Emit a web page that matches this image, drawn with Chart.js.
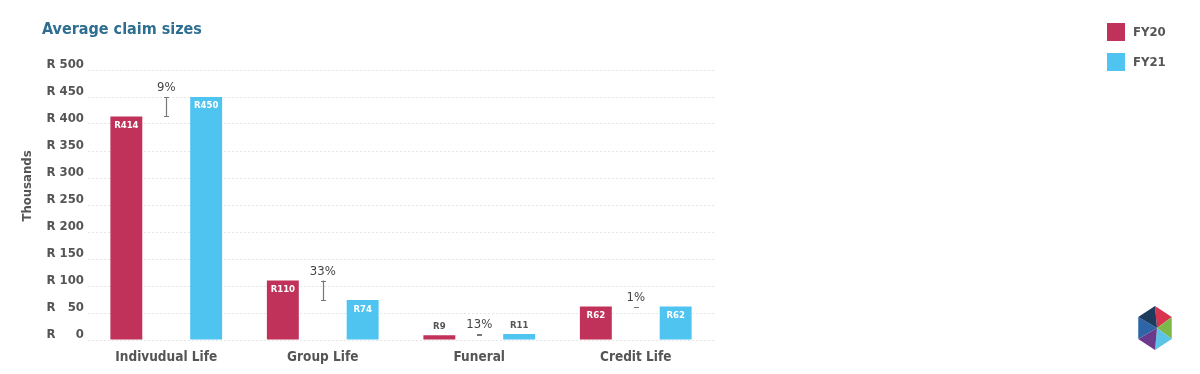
<!DOCTYPE html>
<html><head><meta charset="utf-8">
<script src="https://cdn.jsdelivr.net/npm/chart.js@4"></script>
<style>html,body{margin:0;padding:0;background:#fff}#wrap{width:1200px;height:374px;position:relative}</style>
</head><body><div id="wrap"><canvas id="c" width="1200" height="374"></canvas></div>
<script>
const categories = ['Indivudual Life', 'Group Life', 'Funeral', 'Credit Life'];
const fy20 = [414, 110, 9, 62];
const fy21 = [450, 74, 11, 62];
const changeLabels = ['9%', '33%', '13%', '1%'];
const seriesNames = ['FY20', 'FY21'];
const yMin = 0, yMax = 500, yStep = 50;
const chartTitle = 'Average claim sizes';
const yTitle = 'Thousands';

const FONT = "'DejaVu Sans Condensed', 'DejaVu Sans', Verdana, sans-serif";
const C20 = '#c0325a', C21 = '#4fc4f0', GREY = '#555555';

const changeRange = fy20.map((v, i) => [Math.min(v, fy21[i]), Math.max(v, fy21[i])]);

const fmtY = v => { const s = String(v); return 'R ' + '\u2007'.repeat(3 - s.length) + s; };

const drawPlugin = {
  id: 'extras',
  afterDatasetsDraw(chart) {
    const ctx = chart.ctx, ys = chart.scales.y;
    ctx.save();
    [0, 2].forEach(di => {
      const meta = chart.getDatasetMeta(di);
      const vals = chart.data.datasets[di].data;
      meta.data.forEach((el, i) => {
        const h = el.base - el.y;
        ctx.font = 'bold 9.5px ' + FONT;
        ctx.textAlign = 'center'; ctx.textBaseline = 'middle';
        if (h > 20) { ctx.fillStyle = '#ffffff'; ctx.fillText('R' + vals[i], el.x, el.y + 9); }
        else { ctx.fillStyle = GREY; ctx.fillText('R' + vals[i], el.x, el.y - 9); }
      });
    });
    const mid = chart.getDatasetMeta(1);
    mid.data.forEach((el, i) => {
      const [lo, hi] = changeRange[i];
      const yl = ys.getPixelForValue(lo), yh = ys.getPixelForValue(hi);
      const x = Math.round(el.x) + 0.5;
      ctx.strokeStyle = '#777777'; ctx.lineWidth = 1.2;
      ctx.beginPath();
      ctx.moveTo(x, yh); ctx.lineTo(x, yl);
      ctx.moveTo(x - 2.5, Math.round(yh) + 0.5); ctx.lineTo(x + 2.5, Math.round(yh) + 0.5);
      ctx.moveTo(x - 2.5, Math.round(yl) + 0.5); ctx.lineTo(x + 2.5, Math.round(yl) + 0.5);
      ctx.stroke();
      ctx.fillStyle = '#444444';
      ctx.font = '13px ' + FONT;
      ctx.textAlign = 'center'; ctx.textBaseline = 'alphabetic';
      ctx.fillText(changeLabels[i], el.x, yh - 6);
    });
    ctx.restore();
  },
  afterDraw(chart) {
    const ctx = chart.ctx;
    ctx.save();
    ctx.fillStyle = '#2e6e91';
    ctx.font = 'bold 16px ' + FONT;
    ctx.textAlign = 'left'; ctx.textBaseline = 'middle';
    ctx.fillText(chartTitle, 42, 30);
    ctx.translate(28, 186); ctx.rotate(-Math.PI / 2);
    ctx.fillStyle = GREY; ctx.font = 'bold 13px ' + FONT;
    ctx.textAlign = 'center'; ctx.textBaseline = 'middle';
    ctx.fillText(yTitle, 0, 0);
    ctx.setTransform(1, 0, 0, 1, 0, 0);
    [[0, 32], [2, 62]].forEach(([di, cy]) => {
      const ds = chart.data.datasets[di];
      ctx.fillStyle = ds.backgroundColor;
      ctx.fillRect(1107, cy - 9, 18, 18);
      ctx.fillStyle = GREY; ctx.font = 'bold 13px ' + FONT;
      ctx.textAlign = 'left'; ctx.textBaseline = 'middle';
      ctx.fillText(ds.label, 1133, cy + 1);
    });
    const cx = 1155, cy = 328, R = 22;
    const pts = [];
    for (let k = 0; k < 6; k++) { const a = (-90 + 60 * k) * Math.PI / 180; pts.push([cx + R * Math.cos(a) * 0.88, cy + R * Math.sin(a)]); }
    const inner = [cx + 2, cy];
    const cols = ['#d9344f', '#7cb84a', '#5cc4e6', '#6b3a8a', '#2e64a8', '#1d3a5f'];
    for (let k = 0; k < 6; k++) {
      ctx.fillStyle = cols[k];
      ctx.beginPath(); ctx.moveTo(inner[0], inner[1]);
      ctx.lineTo(pts[k][0], pts[k][1]); ctx.lineTo(pts[(k + 1) % 6][0], pts[(k + 1) % 6][1]);
      ctx.closePath(); ctx.fill();
    }
    ctx.restore();
  }
};

new Chart(document.getElementById('c'), {
  type: 'bar',
  data: {
    labels: categories,
    datasets: [
      { label: seriesNames[0], data: fy20, backgroundColor: C20 },
      { label: 'change', data: changeRange, backgroundColor: 'rgba(0,0,0,0)' },
      { label: seriesNames[1], data: fy21, backgroundColor: C21 }
    ]
  },
  options: {
    responsive: false,
    devicePixelRatio: 1,
    animation: false,
    categoryPercentage: 0.765,
    barPercentage: 0.8,
    layout: { padding: { top: 70, right: 486, bottom: 0, left: 0 } },
    plugins: { legend: { display: false }, title: { display: false }, tooltip: { enabled: false } },
    scales: {
      x: {
        grid: { display: false }, border: { display: false },
        ticks: { color: GREY, font: { family: FONT, size: 13.5, weight: 'bold' }, padding: 1 },
        afterFit: s => { s.height = 34; }
      },
      y: {
        min: yMin, max: yMax,
        grid: { color: '#e6e6e6', drawTicks: false, lineWidth: 1 },
        border: { display: false, dash: [2, 2] },
        ticks: { stepSize: yStep, color: GREY, font: { family: FONT, size: 13, weight: 'bold' }, padding: 4, labelOffset: -5, callback: v => fmtY(v) },
        afterFit: s => { s.width = 88; }
      }
    }
  },
  plugins: [drawPlugin]
});
</script></body></html>
